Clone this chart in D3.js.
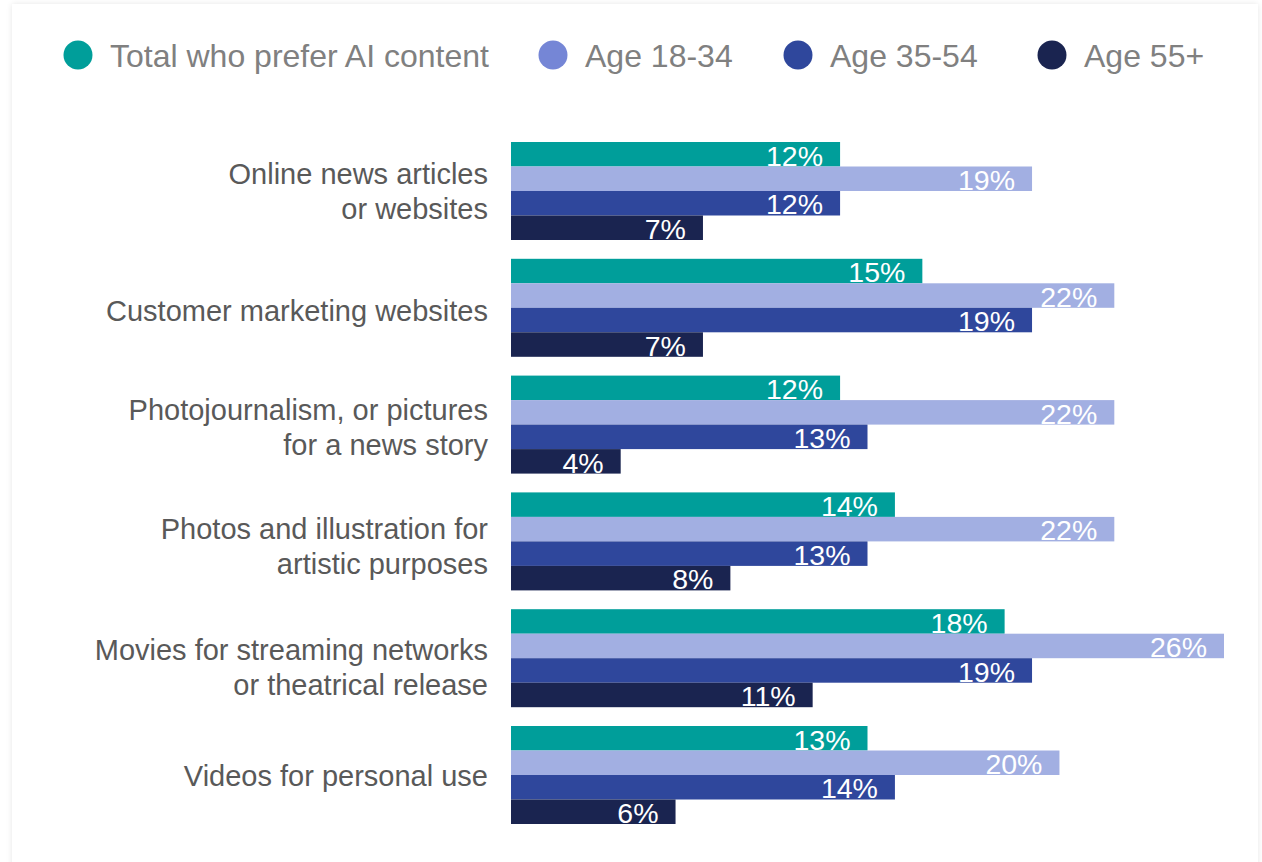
<!DOCTYPE html>
<html>
<head>
<meta charset="utf-8">
<script src="https://cdn.jsdelivr.net/npm/d3@7"></script>
<style>
  html, body { margin: 0; padding: 0; background: #fff; }
  body { width: 1262px; height: 862px; overflow: hidden; position: relative; }
  .card { position: absolute; left: 12px; top: 4px; width: 1246px; height: 900px;
          background: #fff; box-shadow: 0 0 6px rgba(0,0,0,0.10); }
  svg { position: absolute; left: 0; top: 0; font-family: "Liberation Sans", Arial, sans-serif; }
</style>
</head>
<body>
<div class="card"></div>
<svg id="chart" width="1262" height="862"></svg>
<script>
// Content types (two-line labels split with "\n")
const categories = [
  "Online news articles\nor websites",
  "Customer marketing websites",
  "Photojournalism, or pictures\nfor a news story",
  "Photos and illustration for\nartistic purposes",
  "Movies for streaming networks\nor theatrical release",
  "Videos for personal use"
];

const seriesNames = ["Total who prefer AI content", "Age 18-34", "Age 35-54", "Age 55+"];

// Share preferring AI-generated content, in percent
const totalValues = [12, 15, 12, 14, 18, 13];
const age1834Values = [19, 22, 22, 22, 26, 20];
const age3554Values = [12, 19, 13, 13, 19, 14];
const age55Values = [7, 7, 4, 8, 11, 6];

const barColors = ["#009E9A", "#A2AFE2", "#2F479C", "#1A2450"];
const legendColors = ["#009E9A", "#7586D6", "#2F479C", "#1A2450"];

const seriesValues = [totalValues, age1834Values, age3554Values, age55Values];

const svg = d3.select("#chart");

const x = d3.scaleLinear().domain([0, 26]).range([511, 1224]);

const y0 = d3.scaleBand()
  .domain(categories)
  .range([142, 824])
  .paddingInner(0.161)
  .paddingOuter(0);

const y1 = d3.scaleBand()
  .domain(seriesNames)
  .range([0, y0.bandwidth()])
  .padding(0);

// Small vertical nudges for the category label blocks (layout only)
const labelNudge = [-2, 0, 0, 2, 6, -2];

// Legend
const legendX = [78, 553, 798, 1052];
const legend = svg.append("g").attr("class", "legend");
seriesNames.forEach((name, i) => {
  const g = legend.append("g").attr("transform", `translate(${legendX[i]},55)`);
  g.append("circle").attr("r", 14.5).attr("fill", legendColors[i]);
  g.append("text")
    .attr("x", 32)
    .attr("y", 11.5)
    .attr("font-size", 32)
    .attr("fill", "#808080")
    .text(name);
});

// Grouped bars
const groups = svg.append("g").selectAll("g.group")
  .data(categories)
  .join("g")
  .attr("class", "group")
  .attr("transform", d => `translate(0,${y0(d)})`);

groups.each(function(cat, ci) {
  const g = d3.select(this);
  const rows = seriesNames.map((s, si) => ({ s, si, v: seriesValues[si][ci] }));

  g.selectAll("rect")
    .data(rows)
    .join("rect")
    .attr("x", x(0))
    .attr("y", d => y1(d.s))
    .attr("width", d => x(d.v) - x(0))
    .attr("height", y1.bandwidth())
    .attr("fill", d => barColors[d.si]);

  g.selectAll("text.value")
    .data(rows)
    .join("text")
    .attr("class", "value")
    .attr("x", d => x(d.v) - 17)
    .attr("y", d => y1(d.s) + y1.bandwidth() - 1)
    .attr("text-anchor", "end")
    .attr("font-size", 28.5)
    .attr("fill", "#fff")
    .text(d => d.v + "%");

  // Category label, right-aligned left of the bars
  const lines = cat.split("\n");
  const cy = y0.bandwidth() / 2 + labelNudge[ci];
  const label = g.append("text")
    .attr("text-anchor", "end")
    .attr("font-size", 29)
    .attr("fill", "#595959");
  lines.forEach((line, li) => {
    label.append("tspan")
      .attr("x", 488)
      .attr("y", cy + 13 + (li - (lines.length - 1) / 2) * 35)
      .text(line);
  });
});
</script>
</body>
</html>
